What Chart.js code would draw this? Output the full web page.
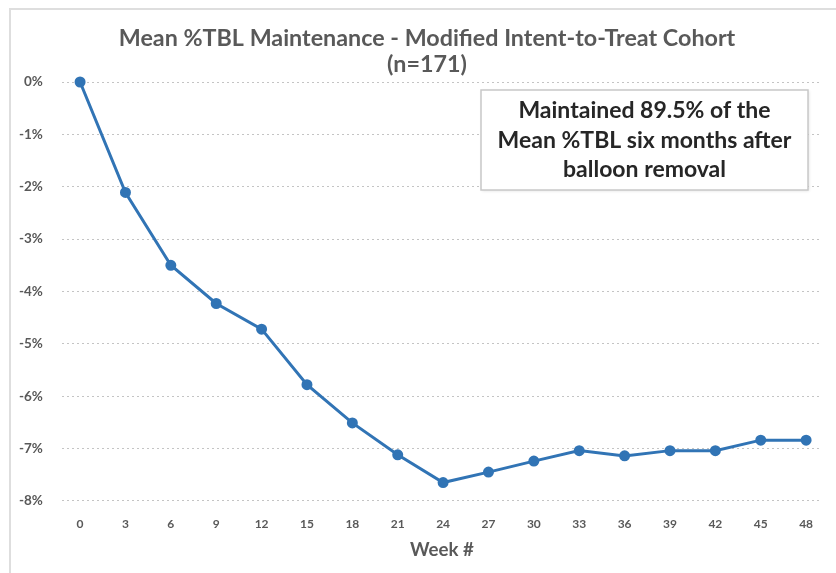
<!DOCTYPE html>
<html>
<head>
<meta charset="utf-8">
<script src="https://cdn.jsdelivr.net/npm/chart.js@4.4.1/dist/chart.umd.min.js"></script>
<style>
  html, body { margin: 0; padding: 0; background: #ffffff; }
  #wrap { position: relative; width: 836px; height: 573px; }
  #frame { position: absolute; left: 9px; top: 8px; right: 0; bottom: 0; border-left: 2px solid #dedede; border-top: 2px solid #dedede; pointer-events: none; }
  canvas { position: absolute; left: 0; top: 0; }
</style>
</head>
<body>
<div id="wrap">
  <canvas id="c" width="836" height="573"></canvas>
  <div id="frame"></div>
</div>
<script>
const titleLines = ['Mean %TBL Maintenance - Modified Intent-to-Treat Cohort', '(n=171)'];
const xAxisTitle = 'Week #';
const weeks = [0, 3, 6, 9, 12, 15, 18, 21, 24, 27, 30, 33, 36, 39, 42, 45, 48];
const meanTBL = [0, -2.11, -3.5, -4.23, -4.72, -5.78, -6.51, -7.12, -7.65, -7.45, -7.24, -7.04, -7.14, -7.04, -7.04, -6.84, -6.84];
const yTicks = [0, -1, -2, -3, -4, -5, -6, -7, -8];
const calloutLines = ['Maintained 89.5% of the', 'Mean %TBL six months after', 'balloon removal'];

const FONT = 'Lato, "Open Sans", sans-serif';
const GRAY = '#595959';
const BLUE = '#3174b5';

// Shift the title block so that it is centred like the original (offset to the right)
const titleShiftPlugin = {
  id: 'titleShift',
  afterLayout(chart) {
    if (chart.titleBlock) chart.titleBlock.left += 32;
  }
};

const calloutPlugin = {
  id: 'callout',
  afterDraw(chart) {
    const ctx = chart.ctx;
    const ca = chart.chartArea;
    const w = 327, h = 100;
    const left = ca.right - 341;
    const top = ca.top + 8;
    ctx.save();
    ctx.shadowColor = 'rgba(0,0,0,0.12)';
    ctx.shadowBlur = 3;
    ctx.shadowOffsetX = 1;
    ctx.shadowOffsetY = 1;
    ctx.fillStyle = '#ffffff';
    ctx.fillRect(left, top, w, h);
    ctx.shadowColor = 'transparent';
    ctx.strokeStyle = '#c8c8c8';
    ctx.lineWidth = 1.5;
    ctx.strokeRect(left, top, w, h);
    ctx.fillStyle = '#262626';
    ctx.font = 'bold 23px ' + FONT;
    ctx.textAlign = 'center';
    ctx.textBaseline = 'middle';
    const cx = left + w / 2;
    calloutLines.forEach((t, i) => ctx.fillText(t, cx, top + 21 + i * 29.5));
    ctx.restore();
  }
};

new Chart(document.getElementById('c'), {
  type: 'line',
  data: {
    datasets: [{
      data: weeks.map((w, i) => ({ x: w, y: meanTBL[i] })),
      borderColor: BLUE,
      backgroundColor: BLUE,
      borderWidth: 3,
      pointRadius: 4,
      pointHoverRadius: 4,
      pointBackgroundColor: BLUE,
      pointBorderColor: BLUE,
      tension: 0,
      clip: false
    }]
  },
  options: {
    responsive: false,
    animation: false,
    devicePixelRatio: 1,
    layout: { padding: { left: 0, right: 14, top: 0, bottom: 14 } },
    plugins: {
      legend: { display: false },
      tooltip: { enabled: false },
      title: {
        display: true,
        text: titleLines,
        color: GRAY,
        font: { family: FONT, size: 23.3, weight: 'bold', lineHeight: 25.5 / 23.3 },
        padding: { top: 26, bottom: 5 }
      }
    },
    scales: {
      x: {
        type: 'linear',
        min: -1.2,
        max: 49.05,
        afterBuildTicks(scale) { scale.ticks = weeks.map(v => ({ value: v })); },
        grid: { display: false, drawTicks: false },
        border: { display: false },
        ticks: {
          autoSkip: false,
          maxRotation: 0,
          color: GRAY,
          padding: 16.5,
          font: { family: FONT, size: 12, weight: 'bold' },
          callback: v => String(v)
        },
        title: {
          display: true,
          text: xAxisTitle,
          color: GRAY,
          font: { family: FONT, size: 18.7, weight: 'bold', lineHeight: 1 },
          padding: { top: -8, bottom: 0 }
        }
      },
      y: {
        min: -8,
        max: 0,
        afterBuildTicks(scale) { scale.ticks = yTicks.map(v => ({ value: v })); },
        grid: { color: '#c4c4c4', lineWidth: 1, drawTicks: false },
        border: { display: false, dash: [2, 3] },
        ticks: {
          color: GRAY,
          padding: 19,
          font: { family: FONT, size: 13.5, weight: 'bold' },
          callback: v => v + '%'
        }
      }
    }
  },
  plugins: [titleShiftPlugin, calloutPlugin]
});
</script>
</body>
</html>
